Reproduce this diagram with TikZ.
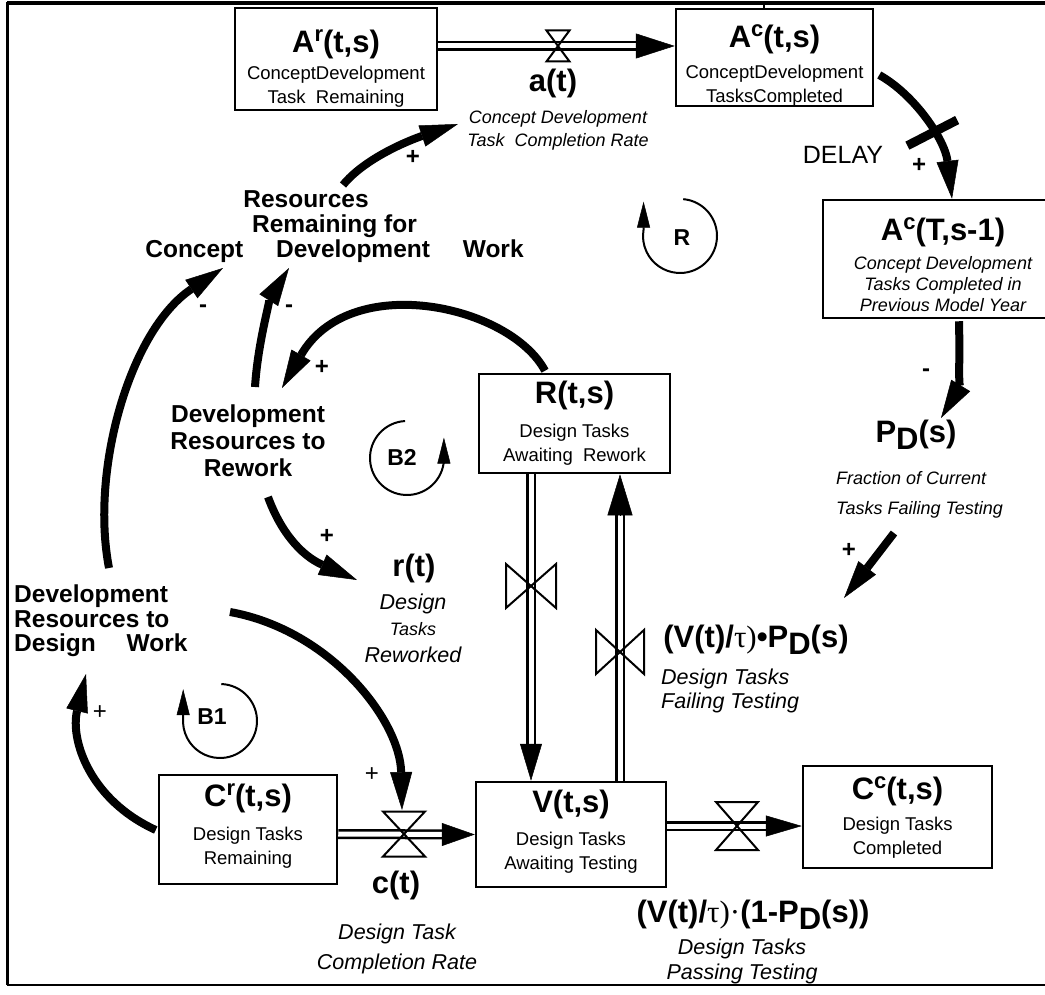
\documentclass[tikz,border=0pt]{standalone}
\usepackage{fontspec}
\setmainfont{Liberation Sans}
\newfontfamily\serifgk{Liberation Serif}
\usetikzlibrary{arrows.meta,calc}
\newcommand\fTitle{\fontsize{31}{32}\selectfont\bfseries}
\newcommand\fSub{\fontsize{18.5}{24}\selectfont}
\newcommand\fLbl{\fontsize{24.5}{25}\selectfont\bfseries}
\newcommand\fDesc{\fontsize{18}{23}\selectfont\itshape}
\newcommand\fDescL{\fontsize{21.5}{24}\selectfont\itshape}
\newcommand\fSign{\fontsize{24}{24}\selectfont\bfseries}
\newcommand\fSignT{\fontsize{24}{24}\selectfont}
\newcommand\fLoop{\fontsize{23}{23}\selectfont\bfseries}
\newcommand\upsc[1]{\raisebox{11pt}{\fontsize{22}{22}\selectfont #1}}
\newcommand\lowD{\raisebox{-7pt}{D}}
\newcommand\stT[1]{\rule{0pt}{#1}}
\newcommand\stB[1]{\rule[-#1]{0pt}{#1}}
\tikzset{
  hval/.pic={\draw[line width=2pt,line join=miter] (-1,-1) -- (1,-1) -- (-1,1) -- (1,1) -- cycle;},
  vval/.pic={\draw[line width=2pt,line join=miter] (-1,-1) -- (-1,1) -- (1,-1) -- (1,1) -- cycle;}
}
\begin{document}
\begin{tikzpicture}[x=1pt,y=-1pt,
  stock/.style={draw,line width=2.5pt,inner sep=0pt,align=center,font=\fSub},
  txt/.style={inner sep=0pt},
  ttl/.style={txt,font=\fTitle},
  lbl/.style={txt,font=\fLbl},
  desc/.style={txt,font=\fDesc},
  descL/.style={txt,font=\fDescL},
  sgn/.style={txt,font=\fSign},
  sgnT/.style={txt,font=\fSignT},
  loopf/.style={txt,font=\fLoop},
  link/.style={line width=8pt,-{Triangle[length=38pt,width=22pt,line width=0.5pt]}},
  pipe/.style={draw,line width=2.5pt,double,double distance=5pt},
  loopline/.style={line width=2pt,-{Triangle[length=26pt,width=13pt,line width=0.5pt]}},
  delaymark/.style={fill=black,inner sep=0pt,minimum width=9pt,minimum height=56pt}
]
\useasboundingbox (0,0) rectangle (1045,995);
\fill[white] (0,0) rectangle (1045,995);
% frame
\draw[line width=4pt] (7,3.5) -- (1050,3.5);
\draw[line width=3pt] (7.5,2) -- (7.5,985);
\draw[line width=1.5pt] (7,985) -- (1050,985);
\draw[line width=1.5pt] (764,3) -- (764,9);

% stocks
\node[stock,minimum width=202pt,minimum height=102pt] (Ar) at (336,59)
  {{\fTitle\stT{41pt}A\upsc{r}(t,s)}\\[3pt]ConceptDevelopment\\Task\ \ Remaining};
\node[stock,minimum width=197pt,minimum height=97pt] (Ac) at (774.5,57.5)
  {{\fTitle\stT{38pt}A\upsc{c}(t,s)}\\[7pt]ConceptDevelopment\\TasksCompleted};
\node[stock,minimum width=240pt,minimum height=118pt,font=\fontsize{18}{21}\selectfont\itshape] (AcT) at (943,259)
  {{\fTitle\upshape\stT{35pt}A\upsc{c}(T,s-1)}\\[8pt]Concept Development\\Tasks Completed in\\Previous Model Year};
\node[stock,minimum width=191pt,minimum height=99pt] (R) at (574.5,423.5)
  {{\fTitle R(t,s)}\\[10pt]Design Tasks\\Awaiting\ \ Rework};
\node[stock,minimum width=178pt,minimum height=109pt] (Cr) at (248,829.5)
  {{\fTitle C\upsc{r}(t,s)}\\[10pt]Design Tasks\\Remaining\stB{11pt}};
\node[stock,minimum width=190pt,minimum height=105pt] (V) at (571,834.5)
  {{\fTitle V(t,s)}\\[9pt]Design Tasks\\Awaiting Testing\stB{10pt}};
\node[stock,minimum width=189pt,minimum height=102pt] (Cc) at (897.5,817)
  {{\fTitle C\upsc{c}(t,s)}\\[7pt]Design Tasks\\Completed};

% text variables
\node[ttl] (at) at (553,83) {a(t)};
\node[desc,align=center] (adesc) at (558,130) {Concept Development\\Task\ \ Completion Rate};
\node[txt,font=\fontsize{25}{25}\selectfont] (delay) at (843,155) {DELAY};
\node[lbl,align=center] (rrc) at (334.5,227)
  {Resources\hspace*{57pt}\\Remaining for\hspace*{57pt}\\Concept\hspace{26pt} Development\hspace{26pt} Work};
\node[lbl,align=center,font=\fontsize{24.5}{27}\selectfont\bfseries] (devrw) at (248,441)
  {Development\\Resources to\\Rework};
\node[lbl,align=left,anchor=west,font=\fontsize{24.5}{24.5}\selectfont\bfseries] (devdw) at (14,621)
  {Development\\Resources to\\Design\hspace{24pt} Work};
\node[ttl] (PD) at (916,435) {P\lowD(s)};
\node[desc,align=left,anchor=west] (pddesc) at (836,495) {Fraction of Current\\[7pt]Tasks Failing Testing};
\node[ttl] (failf) at (756,640) {(V(t)/{\serifgk\mdseries τ)}•P\lowD(s)};
\node[descL,align=left,anchor=west] (faildesc) at (661,691) {Design Tasks\\Failing Testing};
\node[ttl] (passf) at (753,915) {(V(t)/{\serifgk\mdseries τ)·}(1-P\lowD(s))};
\node[descL,align=center,font=\fontsize{21.5}{25}\selectfont\itshape] (passdesc) at (742,961) {Design Tasks\\Passing Testing};
\node[ttl] (ct) at (396,885) {c(t)};
\node[descL,align=center] (ctdesc) at (397,949) {Design Task\\[6pt]Completion Rate};
\node[ttl] (rt) at (414,568) {r(t)};
\node[descL,align=center] (rtdesc) at (413,628) {Design\\[2.5pt]{\fontsize{18}{24}\selectfont Tasks}\\[2.5pt]Reworked};

% loop labels
\node[loopf] (Rl) at (682,238) {R};
\node[loopf] (B2l) at (402,457) {B2};
\node[loopf] (B1l) at (212,717) {B1};

% valves
\coordinate (va) at (558,46);
\coordinate (vc) at (404,834);
\coordinate (vcc) at (737,826);
\coordinate (vrv) at (531,586);
\coordinate (vvr) at (620,652);

% pipes
\coordinate (p1a) at ($(Ar.east)+(0,-13)$);
\coordinate (p1b) at ($(Ac.west)+(0,-11.5)$);
\draw[pipe,shorten >=36pt] (p1a) -- (p1b);
\draw[line width=0.5pt,-{Triangle[length=39pt,width=25pt,line width=0.5pt]}] ($(p1b)+(-39,0)$) -- (p1b);
\pic[xscale=11.5,yscale=15.5] at (va) {hval};

\coordinate (p2a) at ($(Cr.east)+(0,4.5)$);
\coordinate (p2b) at (V.west);
\draw[pipe,shorten >=30pt] (p2a) -- (p2b);
\draw[line width=0.5pt,-{Triangle[length=33pt,width=23pt,line width=0.5pt]}] ($(p2b)+(-33,0)$) -- (p2b);
\pic[xscale=21,yscale=22.5] at (vc) {hval};

\coordinate (p3a) at ($(V.east)+(0,-8.5)$);
\coordinate (p3b) at ($(Cc.west)+(0,9)$);
\draw[pipe,shorten >=33pt] (p3a) -- (p3b);
\draw[line width=0.5pt,-{Triangle[length=36pt,width=21pt,line width=0.5pt]}] ($(p3b)+(-36,0)$) -- (p3b);
\pic[xscale=21,yscale=24] at (vcc) {hval};

\coordinate (p4a) at ($(R.south)+(-43.5,0)$);
\coordinate (p4b) at ($(V.north)+(-40,0)$);
\draw[pipe,shorten >=34pt] (p4a) -- (p4b);
\draw[line width=0.5pt,-{Triangle[length=37pt,width=22pt,line width=0.5pt]}] ($(p4b)+(0,-37)$) -- (p4b);
\pic[xscale=25,yscale=22] at (vrv) {vval};

\coordinate (p5a) at ($(V.north)+(49,0)$);
\coordinate (p5b) at ($(R.south)+(45.5,0)$);
\draw[pipe,shorten >=38pt] (p5a) -- (p5b);
\draw[line width=0.5pt,-{Triangle[length=41pt,width=25pt,line width=0.5pt]}] ($(p5b)+(0,41)$) -- (p5b);
\pic[xscale=24,yscale=22] at (vvr) {vval};

% causal links
\draw[link] ($(rrc)+(8.5,-42)$) .. controls (365,158) and (410,140) .. ($(adesc)+(-100,-6)$);
\draw[link] ($(devdw.west)+(95,-53)$) .. controls (90,470) and (130,330) .. ($(rrc)+(-111.5,41)$);
\draw[link] ($(devrw)+(7,-54)$) .. controls (258,340) and (272,295) .. ($(rrc)+(-45.5,41)$);
\draw[link] ($(R.north)+(-29.5,-2)$) .. controls (510,305) and (350,270) .. ($(devrw)+(34,-53)$);
\draw[link] ($(devrw)+(20,56)$) .. controls (280,530) and (300,555) .. ($(rt)+(-57,12)$);
\draw[link] ($(devdw.west)+(216,-9)$) .. controls (330,630) and (400,720) .. ($(vc)+(-2,-24)$);
\draw[link] ($(Cr.west)+(-2,0.5)$) .. controls (90,800) and (70,740) .. ($(devdw.west)+(72,53)$);
\draw[link] ($(Ac.east)+(5,17.5)$) .. controls (915,95) and (945,140) .. node[pos=0.58,sloped,delaymark] (dm) {} ($(AcT.north)+(9,0)$);
\draw[link] ($(AcT.south)+(16,2)$) .. controls (960,360) and (958,390) .. ($(PD)+(25,-17)$);
\draw[link] ($(pddesc.west)+(58,38)$) -- ($(failf)+(88,-42)$);

% polarity signs
\node[sgn] (s1) at (413,157) {+};
\node[sgn] (s2) at (203,309) {-};
\node[sgn] (s3) at (289,309) {-};
\node[sgn] (s4) at (322,367) {+};
\node[sgn] (s5) at (327,536) {+};
\node[sgnT] (s6) at (372,775) {+};
\node[sgnT] (s7) at (100,713) {+};
\node[sgn] (s8) at (919,165) {+};
\node[sgn] (s9) at (926,373) {-};
\node[sgn] (s10) at (849,550) {+};

% loop markers
\coordinate (cR) at (680,236);
\draw[loopline] ($(cR)+(-85:37)$) arc[start angle=-85,end angle=190,radius=37] -- ++(0,-28);
\coordinate (cB2) at (407,458);
\draw[loopline] ($(cB2)+(267:37)$) arc[start angle=267,end angle=4,radius=37] -- ++(0,-23);
\coordinate (cB1) at (220,721);
\draw[loopline] ($(cB1)+(-88:37)$) arc[start angle=-88,end angle=186,radius=37] -- ++(0,-28);
\end{tikzpicture}
\end{document}
